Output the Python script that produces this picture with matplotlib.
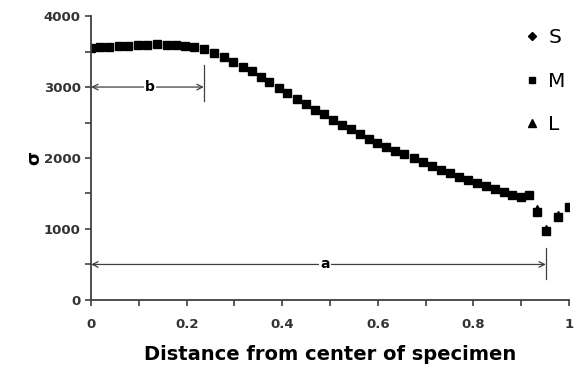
import numpy as np
import matplotlib.pyplot as plt
from matplotlib.ticker import MultipleLocator

# distance from center (normalised) and sigma
x_m = [0.000, 0.019, 0.038, 0.058, 0.078, 0.098, 0.118, 0.138, 0.158, 0.178,
       0.197, 0.216, 0.237, 0.258, 0.278, 0.298, 0.317, 0.336, 0.355, 0.373,
       0.393, 0.411, 0.431, 0.450, 0.468, 0.487, 0.506, 0.525, 0.544, 0.562,
       0.581, 0.599, 0.617, 0.636, 0.655, 0.675, 0.694, 0.713, 0.732, 0.751,
       0.770, 0.789, 0.807, 0.826, 0.845, 0.864, 0.882, 0.899, 0.917,
       0.933, 0.952, 0.977, 1.000]
sig_m = [3550, 3560, 3566, 3572, 3580, 3590, 3597, 3600, 3596, 3590,
         3578, 3562, 3530, 3480, 3420, 3357, 3286, 3225, 3146, 3066,
         2982, 2911, 2826, 2761, 2680, 2615, 2540, 2469, 2404, 2334,
         2272, 2215, 2160, 2103, 2052, 1995, 1939, 1887, 1836, 1784,
         1737, 1690, 1643, 1601, 1559, 1521, 1483, 1446, 1479,
         1240, 965, 1165, 1310]
x_s = [0.933, 0.952, 0.977]
sig_s = [1255, 975, 1175]
x_l = [0.933, 0.952, 0.977]
sig_l = [1275, 995, 1195]

# annotation extents
a_end, a_level = 0.952, 500
b_end, b_level = 0.236, 3000

fig = plt.figure(figsize=(5.84, 3.74), dpi=100)
ax = fig.add_axes([0.156, 0.198, 0.818, 0.759])

ax.plot(x_s, sig_s, "kD", ms=4.5, ls="none", label="S")
ax.plot(x_l, sig_l, "k^", ms=6, ls="none", label="L")
ax.plot(x_m, sig_m, "ks", ms=5.5, ls="none", label="M")

# arrows a and b
arr = dict(arrowstyle="<->", color="#404040", lw=0.9, shrinkA=0, shrinkB=0)
ax.annotate("", xy=(0.0, a_level), xytext=(a_end, a_level), arrowprops=arr)
ax.plot([a_end, a_end], [300, 730], color="#404040", lw=0.9)
ax.text(0.49, a_level, "a", ha="center", va="center", fontsize=10,
        fontweight="bold", bbox=dict(fc="white", ec="none", pad=1))
ax.annotate("", xy=(0.0, b_level), xytext=(b_end, b_level), arrowprops=arr)
ax.plot([b_end, b_end], [2810, 3310], color="#404040", lw=0.9)
ax.text(b_end / 2 + 0.005, b_level, "b", ha="center", va="center", fontsize=10,
        fontweight="bold", bbox=dict(fc="white", ec="none", pad=1))

ax.set_xlim(0, 1)
ax.set_ylim(0, 4000)
ax.xaxis.set_major_locator(MultipleLocator(0.2))
ax.xaxis.set_minor_locator(MultipleLocator(0.1))
ax.yaxis.set_major_locator(MultipleLocator(1000))
ax.yaxis.set_minor_locator(MultipleLocator(500))
ax.set_xticks([0, 0.2, 0.4, 0.6, 0.8, 1.0], ["0", "0.2", "0.4", "0.6", "0.8", "1"])
ax.tick_params(which="both", direction="out", length=4, width=1.2, color="#404040",
               labelsize=9.5)
for lab in ax.get_xticklabels() + ax.get_yticklabels():
    lab.set_fontweight("bold")
    lab.set_color("#333333")
ax.tick_params(axis="x", pad=9)

for s in ["top", "right"]:
    ax.spines[s].set_visible(False)
for s in ["left", "bottom"]:
    ax.spines[s].set_color("#404040")
    ax.spines[s].set_linewidth(1.3)

ax.set_xlabel("Distance from center of specimen", fontsize=14, fontweight="bold",
              labelpad=10)
ax.set_ylabel("σ", fontsize=13, fontweight="bold", labelpad=0)

h, l = ax.get_legend_handles_labels()
order = [0, 2, 1]
ax.legend([h[i] for i in order], [l[i] for i in order], loc="upper right",
          frameon=False, fontsize=14.5, labelspacing=1.2, handletextpad=0.2,
          handlelength=1.2, markerscale=0.9, borderaxespad=0.0,
          bbox_to_anchor=(1.01, 0.985))

fig.savefig("out.png", dpi=100)
